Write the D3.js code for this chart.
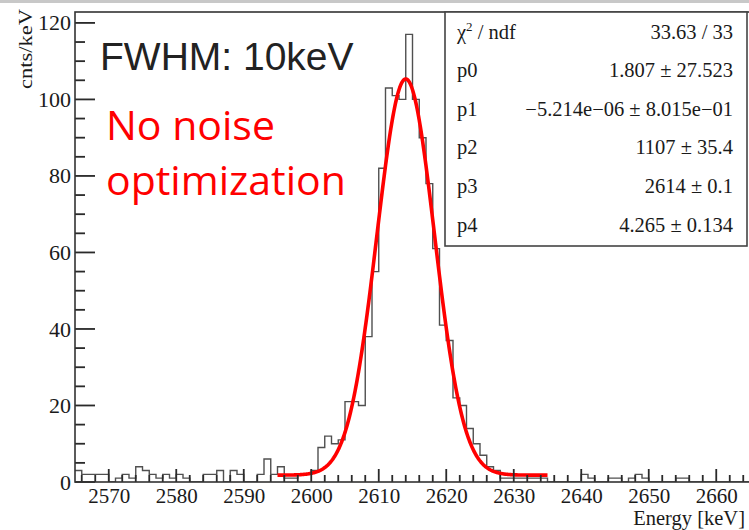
<!DOCTYPE html>
<html>
<head>
<meta charset="utf-8">
<script src="https://cdn.jsdelivr.net/npm/d3@7"></script>
<style>
  body { margin: 0; background: #fff; }
  svg { display: block; }
</style>
</head>
<body>
<div id="chart"></div>
<script>
// histogram: 1 keV bins starting at 2565 keV
const binStart = 2565;
const binWidth = 1;
const counts = [
  3, 2, 2, 2, 2, 0, 1, 2, 1, 4,        // 2565-2574
  3, 2, 1, 2, 1, 2, 1, 0, 0, 2,        // 2575-2584
  2, 3, 0, 3, 2, 0, 0, 2, 6, 2,        // 2585-2594
  4, 1, 1, 2, 2, 3, 9, 12, 10, 11,     // 2595-2604
  21, 21, 20, 38, 55, 82, 103, 101, 100, 117, // 2605-2614
  100, 90, 78, 61, 41, 37, 22, 20, 14, 10,    // 2615-2624
  7, 4, 3, 1, 1, 1, 1, 1, 1, 1,        // 2625-2634
  0, 0, 0, 0, 0, 2, 1, 0, 0, 1,        // 2635-2644
  1, 0, 1, 2, 1, 0, 0, 0, 0, 1,        // 2645-2654
  1, 0, 0, 0, 0, 0, 0, 0, 0, 0         // 2655-2664
];

// fit: pol1 + gaus (p2 = area)
const fitParams = [1.807, -5.214e-06, 1107, 2614, 4.265];
const fitRange = [2595, 2635];

const xTicks = [2570, 2580, 2590, 2600, 2610, 2620, 2630, 2640, 2650, 2660];
const xMinorTicks = [2566, 2568, 2572, 2574, 2576, 2578, 2582, 2584, 2586, 2588,
  2592, 2594, 2596, 2598, 2602, 2604, 2606, 2608, 2612, 2614, 2616, 2618,
  2622, 2624, 2626, 2628, 2632, 2634, 2636, 2638, 2642, 2644, 2646, 2648,
  2652, 2654, 2656, 2658, 2662, 2664];
const yTicks = [0, 20, 40, 60, 80, 100, 120];
const yMinorTicks = [5, 10, 15, 25, 30, 35, 45, 50, 55, 65, 70, 75, 85, 90, 95, 105, 110, 115];

const statLabels = ['p0', 'p1', 'p2', 'p3', 'p4'];
const statValues = ['1.807 \u00b1 27.523', '\u22125.214e\u221206 \u00b1 8.015e\u221201', '1107 \u00b1 35.4', '2614 \u00b1 0.1', '4.265 \u00b1 0.134'];
const chi2Value = '33.63 / 33';

const width = 749, height = 530;
const margin = { left: 75, right: 0, top: 12, bottom: 48 };

const svg = d3.select('#chart').append('svg')
  .attr('width', width)
  .attr('height', height);

const x = d3.scaleLinear()
  .domain([2565, 2665])
  .range([margin.left, width - margin.right + 1]);
const y = d3.scaleLinear()
  .domain([0, 122.85])
  .range([height - margin.bottom, margin.top]);

// slide border on top
svg.append('rect')
  .attr('x', 0).attr('y', 0)
  .attr('width', width).attr('height', 3)
  .attr('fill', '#c8c8c8');

svg.append('defs').append('clipPath').attr('id', 'clip')
  .append('rect')
  .attr('x', x.range()[0]).attr('y', y.range()[1])
  .attr('width', x.range()[1] - x.range()[0])
  .attr('height', y.range()[0] - y.range()[1]);

const plot = svg.append('g').attr('clip-path', 'url(#clip)');

// histogram outline
const histPts = counts.map((c, i) => [binStart + i * binWidth, c]);
histPts.push([binStart + counts.length * binWidth, counts[counts.length - 1]]);
const stepLine = d3.line()
  .x(d => x(d[0]))
  .y(d => y(d[1]))
  .curve(d3.curveStepAfter);
plot.append('path')
  .attr('d', stepLine(histPts))
  .attr('fill', 'none')
  .attr('stroke', '#505050')
  .attr('stroke-width', 1.4);

// fit curve
const fitFn = e => fitParams[0] + fitParams[1] * e +
  fitParams[2] / (Math.sqrt(2 * Math.PI) * fitParams[4]) *
  Math.exp(-0.5 * Math.pow((e - fitParams[3]) / fitParams[4], 2));
const fitPts = d3.range(0, 401).map(i => {
  const e = fitRange[0] + (fitRange[1] - fitRange[0]) * i / 400;
  return [e, fitFn(e)];
});
plot.append('path')
  .attr('d', d3.line().x(d => x(d[0])).y(d => y(d[1]))(fitPts))
  .attr('fill', 'none')
  .attr('stroke', '#ff0000')
  .attr('stroke-width', 3.6)
  .attr('stroke-linejoin', 'round');

// tick marks as thin filled rects, pointing into the frame
const x0 = x.range()[0], yb = y(0);
const tickColor = '#2a2a2a', tw = 1.8;
const xTickMarks = xMinorTicks.map(t => ({ v: t, len: 7 }))
  .concat(xTicks.map(t => ({ v: t, len: 13 })));
const yTickMarks = yMinorTicks.map(t => ({ v: t, len: 10 }))
  .concat(yTicks.map(t => ({ v: t, len: 20 })));

svg.append('g').selectAll('rect').data(xTickMarks).enter().append('rect')
  .attr('x', d => x(d.v) - tw / 2)
  .attr('y', d => yb - d.len)
  .attr('width', tw)
  .attr('height', d => d.len)
  .attr('fill', tickColor);
svg.append('g').selectAll('rect').data(yTickMarks).enter().append('rect')
  .attr('x', x0)
  .attr('y', d => y(d.v) - tw / 2)
  .attr('width', d => d.len)
  .attr('height', tw)
  .attr('fill', tickColor);

// tick labels via d3 axes (no tick lines)
const styleAxis = g => {
  g.select('.domain').remove();
  g.selectAll('.tick line').remove();
  g.selectAll('.tick text')
    .attr('font-family', 'Liberation Serif, serif')
    .attr('fill', '#1a1a1a');
};
svg.append('g')
  .attr('transform', `translate(0,${yb})`)
  .call(d3.axisBottom(x).tickValues(xTicks).tickSize(0).tickPadding(21).tickFormat(d3.format('d')))
  .call(styleAxis)
  .call(g => g.selectAll('.tick text').attr('font-size', 21).attr('dy', 0));
svg.append('g')
  .attr('transform', `translate(${x0},0)`)
  .call(d3.axisLeft(y).tickValues(yTicks).tickSize(0).tickPadding(4).tickFormat(d3.format('d')))
  .call(styleAxis)
  .call(g => g.selectAll('.tick text').attr('font-size', 22).attr('dy', '0.32em'));

// frame
svg.append('rect')
  .attr('x', x.range()[0]).attr('y', y.range()[1])
  .attr('width', x.range()[1] - x.range()[0])
  .attr('height', y.range()[0] - y.range()[1])
  .attr('fill', 'none')
  .attr('stroke', '#333')
  .attr('stroke-width', 1.6);

// axis titles
svg.append('text')
  .attr('x', 745).attr('y', 525)
  .attr('text-anchor', 'end')
  .attr('font-family', 'Liberation Serif, serif')
  .attr('font-size', 20.5)
  .attr('fill', '#1a1a1a')
  .text('Energy [keV]');

svg.append('text')
  .attr('transform', 'translate(32,9) rotate(-90)')
  .attr('text-anchor', 'end')
  .attr('font-family', 'Liberation Serif, serif')
  .attr('font-size', 19)
  .attr('textLength', 80)
  .attr('lengthAdjust', 'spacingAndGlyphs')
  .attr('fill', '#1a1a1a')
  .text('cnts/keV');

// annotations
svg.append('text')
  .attr('x', 100).attr('y', 70)
  .attr('font-family', 'Liberation Sans, Arial, sans-serif')
  .attr('font-size', 39)
  .attr('fill', '#222')
  .text('FWHM: 10keV');

const note = svg.append('text')
  .attr('font-family', 'Open Sans, sans-serif')
  .attr('font-size', 41)
  .attr('fill', '#ff0000');
note.append('tspan').attr('x', 106).attr('y', 140).text('No noise');
note.append('tspan').attr('x', 106).attr('y', 195).text('optimization');

// stats box
const box = { x0: 445, x1: 747, y0: 12, y1: 246 };
svg.append('rect')
  .attr('x', box.x0).attr('y', box.y0)
  .attr('width', box.x1 - box.x0).attr('height', box.y1 - box.y0)
  .attr('fill', '#fff')
  .attr('stroke', '#444')
  .attr('stroke-width', 1.6);

const rowY = i => 38.5 + i * 38.6;
const statFont = { family: 'Liberation Serif, serif', size: 20.5 };

const chiLab = svg.append('text')
  .attr('x', 457).attr('y', rowY(0))
  .attr('font-family', statFont.family).attr('font-size', statFont.size)
  .attr('fill', '#1a1a1a');
chiLab.append('tspan').text('\u03c7');
chiLab.append('tspan').attr('font-size', 13).attr('dy', -8).text('2');
chiLab.append('tspan').attr('dy', 8).text(' / ndf');

svg.append('text')
  .attr('x', 733).attr('y', rowY(0))
  .attr('text-anchor', 'end')
  .attr('font-family', statFont.family).attr('font-size', statFont.size)
  .attr('fill', '#1a1a1a')
  .text(chi2Value);

svg.selectAll('text.slab').data(statLabels).enter().append('text')
  .attr('class', 'slab')
  .attr('x', 457).attr('y', (d, i) => rowY(i + 1))
  .attr('font-family', statFont.family).attr('font-size', statFont.size)
  .attr('fill', '#1a1a1a')
  .text(d => d);

svg.selectAll('text.sval').data(statValues).enter().append('text')
  .attr('class', 'sval')
  .attr('x', 733).attr('y', (d, i) => rowY(i + 1))
  .attr('text-anchor', 'end')
  .attr('font-family', statFont.family).attr('font-size', statFont.size)
  .attr('fill', '#1a1a1a')
  .text(d => d);
</script>
</body>
</html>
